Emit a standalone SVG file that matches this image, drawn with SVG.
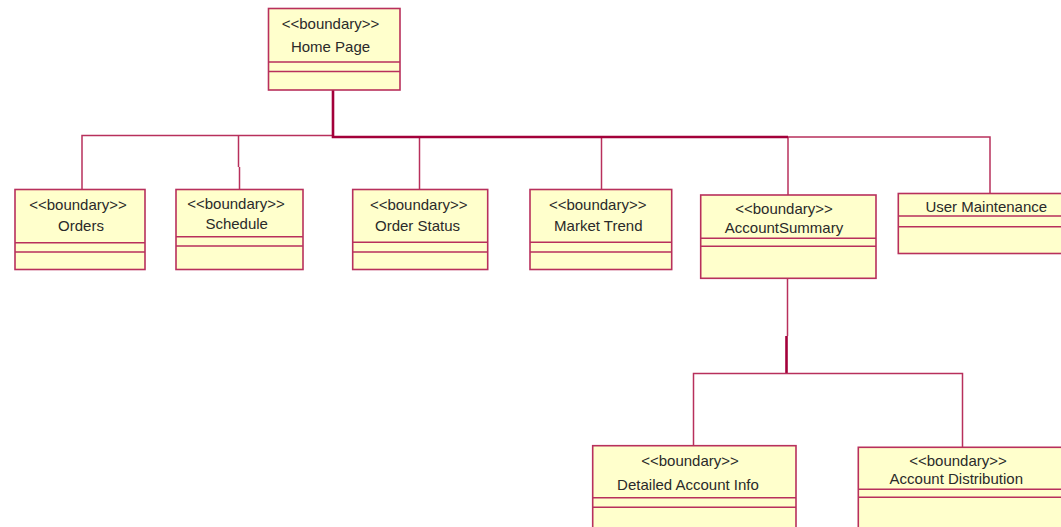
<svg xmlns="http://www.w3.org/2000/svg" width="1061" height="527" viewBox="0 0 1061 527">
  <style>
    .box { fill: #ffffcc; stroke: #b8305c; stroke-width: 1.6; }
    .div { stroke: #b8305c; stroke-width: 1.6; fill: none; }
    .wire { stroke: #b8305c; stroke-width: 1.5; fill: none; }
    .bold { stroke: #a3003a; stroke-width: 2.6; fill: none; }
    text { font-family: "Liberation Sans", Arial, sans-serif; font-size: 15px; fill: #2a2a2a; text-anchor: middle; }
  </style>
  <rect width="1061" height="527" fill="#ffffff"/>

  <!-- associations -->
  <g id="connectors">
    <path class="wire" d="M82 189 V135.5 H333"/>
    <path class="wire" d="M238.5 136 V167 M239.5 167 V189"/>
    <path class="wire" d="M419.5 137 V189"/>
    <path class="wire" d="M601.5 137 V189"/>
    <path class="wire" d="M788 137 H990 V193.5"/>
    <path class="wire" d="M788 137 V195"/>
    <path class="bold" d="M333 90 V137 H788"/>
    <path class="wire" d="M787.5 278 V336"/>
    <path class="bold" d="M786.5 336 V373"/>
    <path class="wire" d="M693.5 446 V373.5 H962.5 V447.5"/>
  </g>

  <g id="home-page">
    <rect class="box" x="268.5" y="8.5" width="131.5" height="81.5"/>
    <path class="div" d="M268.5 62 H400 M268.5 71.5 H400"/>
    <text x="330.5" y="29">&lt;&lt;boundary&gt;&gt;</text>
    <text x="330.5" y="52">Home Page</text>
  </g>

  <g id="orders">
    <rect class="box" x="15" y="189.5" width="130" height="80"/>
    <path class="div" d="M15 242.7 H145 M15 252 H145"/>
    <text x="78" y="209.5">&lt;&lt;boundary&gt;&gt;</text>
    <text x="81" y="231">Orders</text>
  </g>

  <g id="schedule">
    <rect class="box" x="176" y="189.5" width="127" height="80"/>
    <path class="div" d="M176 236.7 H303 M176 246 H303"/>
    <text x="236" y="208.5">&lt;&lt;boundary&gt;&gt;</text>
    <text x="236.7" y="229">Schedule</text>
  </g>

  <g id="order-status">
    <rect class="box" x="352.7" y="189.5" width="135" height="80"/>
    <path class="div" d="M352.7 242.3 H487.7 M352.7 252 H487.7"/>
    <text x="418.7" y="209.5">&lt;&lt;boundary&gt;&gt;</text>
    <text x="417.5" y="231">Order Status</text>
  </g>

  <g id="market-trend">
    <rect class="box" x="530" y="189.5" width="141.7" height="80"/>
    <path class="div" d="M530 242.3 H671.7 M530 252 H671.7"/>
    <text x="597.7" y="209.5">&lt;&lt;boundary&gt;&gt;</text>
    <text x="598.3" y="231">Market Trend</text>
  </g>

  <g id="account-summary">
    <rect class="box" x="700.7" y="195" width="175.3" height="83.3"/>
    <path class="div" d="M700.7 238.3 H876 M700.7 246.3 H876"/>
    <text x="784" y="213.5">&lt;&lt;boundary&gt;&gt;</text>
    <text x="784" y="233.3">AccountSummary</text>
  </g>

  <g id="user-maintenance">
    <rect class="box" x="898.3" y="193.5" width="170" height="60"/>
    <path class="div" d="M898.3 216 H1061 M898.3 226.7 H1061"/>
    <text x="986.3" y="212">User Maintenance</text>
  </g>

  <g id="detailed-account-info">
    <rect class="box" x="592.7" y="445.7" width="203.3" height="90"/>
    <path class="div" d="M592.7 497.7 H796 M592.7 507.3 H796"/>
    <text x="690" y="466">&lt;&lt;boundary&gt;&gt;</text>
    <text x="688" y="490">Detailed Account Info</text>
  </g>

  <g id="account-distribution">
    <rect class="box" x="858.3" y="447.3" width="210" height="90"/>
    <path class="div" d="M858.3 489.3 H1061 M858.3 497.3 H1061"/>
    <text x="958" y="466">&lt;&lt;boundary&gt;&gt;</text>
    <text x="956.3" y="484">Account Distribution</text>
  </g>
</svg>
